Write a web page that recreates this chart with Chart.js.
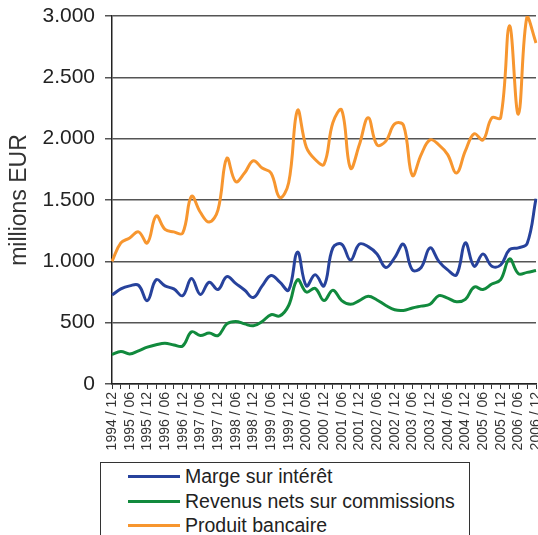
<!DOCTYPE html>
<html>
<head>
<meta charset="utf-8">
<script src="https://cdn.jsdelivr.net/npm/chart.js@4/dist/chart.umd.min.js"></script>
<style>
  body { margin: 0; background: #fff; font-family: "Liberation Sans", Arial, sans-serif; }
  #wrap { position: relative; width: 538px; height: 535px; overflow: hidden; }
  #c { position: absolute; left: 0; top: 0; }
  #legend { position: absolute; left: 100px; top: 462px; width: 370px; height: 90px;
            border: 1px solid #333; box-sizing: border-box; }
  .row { position: absolute; left: 27px; height: 24px; line-height: 24px; font-size: 19.5px; color: #222; white-space: nowrap; }
  .row span.ln { position: absolute; left: 0; top: 11px; width: 52px; height: 3px; }
  .row span.tx { position: absolute; left: 57px; top: 0; }
</style>
</head>
<body>
<div id="wrap">
  <canvas id="c" width="538" height="460"></canvas>
  <div id="legend"></div>
</div>
<script>
// quarterly data, 1994/12 .. 2006/12
var quarters = [
  '1994 / 12','1995 / 03','1995 / 06','1995 / 09','1995 / 12','1996 / 03','1996 / 06','1996 / 09','1996 / 12',
  '1997 / 03','1997 / 06','1997 / 09','1997 / 12','1998 / 03','1998 / 06','1998 / 09','1998 / 12',
  '1999 / 03','1999 / 06','1999 / 09','1999 / 12','2000 / 03','2000 / 06','2000 / 09','2000 / 12',
  '2001 / 03','2001 / 06','2001 / 09','2001 / 12','2002 / 03','2002 / 06','2002 / 09','2002 / 12',
  '2003 / 03','2003 / 06','2003 / 09','2003 / 12','2004 / 03','2004 / 06','2004 / 09','2004 / 12',
  '2005 / 03','2005 / 06','2005 / 09','2005 / 12','2006 / 03','2006 / 06','2006 / 09','2006 / 12'
];

var margeInteret = [
  725, 775, 800, 805, 680, 850, 800, 775, 720,
  860, 730, 830, 770, 875, 820, 766, 705,
  800, 885, 830, 766, 1075, 800, 890, 800,
  1110, 1140, 1010, 1140, 1120, 1060, 950, 1030,
  1140, 930, 950, 1110, 1000, 930, 890, 1150,
  960, 1060, 960, 970, 1095, 1110, 1145, 1510
];

var commissions = [
  240, 265, 245, 270, 300, 320, 332, 318, 310,
  425, 395, 415, 395, 490, 510, 490, 475,
  510, 565, 555, 640, 850, 750, 780, 680,
  765, 680, 650, 680, 715, 685, 640, 605,
  600, 620, 635, 650, 720, 700, 670, 690,
  790, 770, 815, 850, 1020, 900, 910, 925
];

var produitBancaire = [
  1000, 1150, 1190, 1240, 1150, 1370, 1260, 1240, 1230,
  1530, 1400, 1320, 1420, 1840, 1650, 1720, 1820,
  1760, 1720, 1520, 1640, 2230, 1930, 1830, 1790,
  2130, 2234, 1760, 1950, 2170, 1950, 1980, 2120,
  2110, 1700, 1870, 1990, 1950, 1870, 1720, 1900,
  2040, 1990, 2170, 2170, 2920, 2200, 3000, 2780
];

var seriesNames = ['Marge sur intérêt', 'Revenus nets sur commissions', 'Produit bancaire'];
var seriesColors = ['#27429c', '#118a3d', '#f7962f'];
var seriesData = [margeInteret, commissions, produitBancaire];

var fontFam = '"Liberation Sans", Arial, sans-serif';

function fmt(v) {
  return String(v).replace(/\B(?=(\d{3})+(?!\d))/g, '.');
}

var datasets = [];
for (var i = 0; i < seriesNames.length; i++) {
  datasets.push({
    label: seriesNames[i],
    data: seriesData[i],
    borderColor: seriesColors[i],
    backgroundColor: seriesColors[i],
    borderWidth: 3,
    pointRadius: 0,
    tension: 0.4,
    fill: false
  });
}

var ctx = document.getElementById('c');
var chart = new Chart(ctx, {
  type: 'line',
  data: { labels: quarters, datasets: datasets },
  options: {
    responsive: false,
    animation: false,
    layout: { padding: { top: 16, right: 2, left: 0, bottom: 0 } },
    plugins: { legend: { display: false }, tooltip: { enabled: false } },
    scales: {
      x: {
        offset: false,
        grid: { drawOnChartArea: false, drawTicks: true, tickLength: 5, color: '#333', lineWidth: 1 },
        border: { color: '#222', width: 1.5 },
        ticks: {
          autoSkip: false, maxRotation: 90, minRotation: 90, padding: 3,
          color: '#333', font: { family: fontFam, size: 14 },
          callback: function(val, idx) { return idx % 2 === 0 ? quarters[idx] : ''; }
        },
        afterFit: function(scale) { scale.height = 76; scale.paddingRight = 0; scale.paddingLeft = 0; }
      },
      y: {
        min: 0, max: 3000,
        grid: { color: '#555', lineWidth: 1.5, tickLength: 7 },
        border: { color: '#222', width: 1.5 },
        ticks: {
          stepSize: 500, padding: 10, color: '#222',
          font: { family: fontFam, size: 21 },
          callback: function(v) { return fmt(v); }
        },
        title: { display: true, text: 'millions EUR', color: '#333',
                 font: { family: fontFam, size: 23 }, padding: { top: 6, bottom: 0 } },
        afterFit: function(scale) { scale.width = 112; scale.paddingTop = 0; scale.paddingBottom = 0; }
      }
    }
  }
});

// legend box below the chart
var lg = document.getElementById('legend');
for (var j = 0; j < seriesNames.length; j++) {
  var row = document.createElement('div');
  row.className = 'row';
  row.style.top = (1 + j * 24.5) + 'px';
  row.innerHTML = '<span class="ln" style="background:' + seriesColors[j] + '"></span><span class="tx">' + seriesNames[j] + '</span>';
  lg.appendChild(row);
}
</script>
</body>
</html>
